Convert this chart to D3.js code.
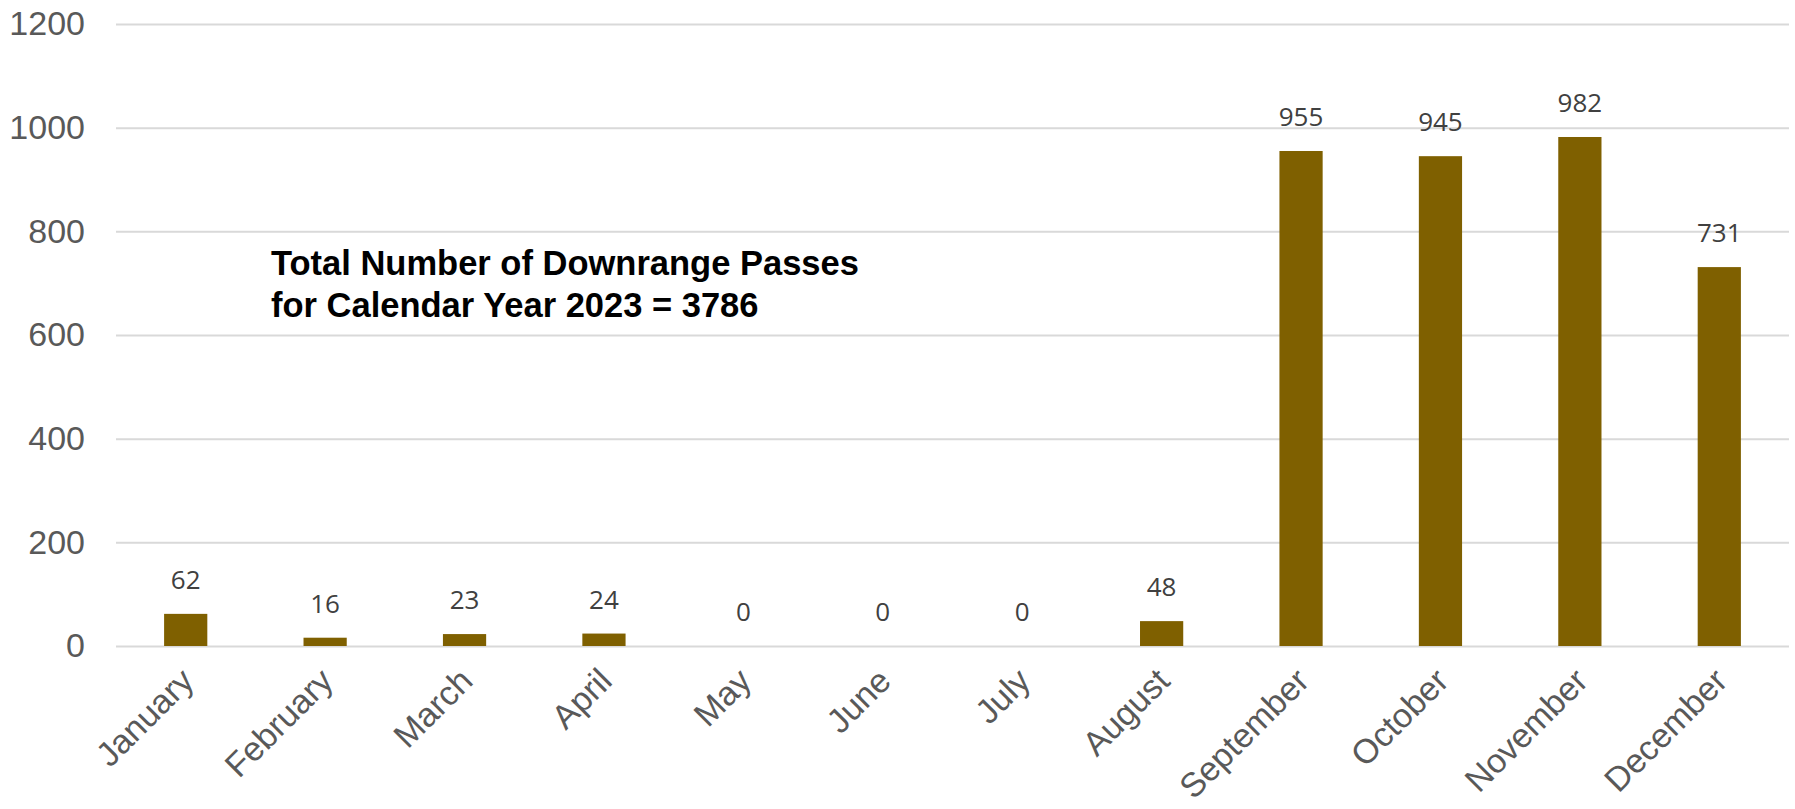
<!DOCTYPE html>
<html><head><meta charset="utf-8">
<script src="https://cdn.jsdelivr.net/npm/d3@7"></script>
<style>body{margin:0;background:#fff}svg{display:block}</style>
</head><body>
<svg id="c" width="1795" height="809"></svg>
<script>
const months = ["January","February","March","April","May","June","July","August","September","October","November","December"];
const passes = [62,16,23,24,0,0,0,48,955,945,982,731];
const yTicks = [0,200,400,600,800,1000,1200];
const noteLines = ["Total Number of Downrange Passes","for Calendar Year 2023 = 3786"];

(function(){
const svg = d3.select("#c");
const mL = 116, mR = 1789, mT = 24, mB = 646;
const x = d3.scaleBand().domain(months).range([mL, mR]).paddingInner(0.69).paddingOuter(0.345);
const y = d3.scaleLinear().domain([0,1200]).range([mB, mT]);

// gridlines
const yAxis = d3.axisLeft(y).tickValues(yTicks).tickSize(-(mR-mL)).tickPadding(31).tickFormat(d3.format("d"));
const gy = svg.append("g").attr("transform",`translate(${mL},0)`).call(yAxis);
gy.select(".domain").remove();
gy.selectAll(".tick line").attr("stroke","#d9d9d9").attr("stroke-width",2);
gy.selectAll(".tick text").attr("fill","#595959").style("font-family","'Liberation Sans', Arial, sans-serif").style("font-size","34px");

// bars
svg.append("g").selectAll("rect").data(passes).join("rect")
  .attr("x",(d,i)=>x(months[i]))
  .attr("y",d=>y(d))
  .attr("width",x.bandwidth())
  .attr("height",d=>mB-y(d))
  .attr("fill","#7f6000");

// value labels
svg.append("g").selectAll("text").data(passes).join("text")
  .attr("x",(d,i)=>x(months[i])+x.bandwidth()/2)
  .attr("y",d=>y(d)-25)
  .attr("text-anchor","middle")
  .attr("fill","#404040")
  .style("font-family","'Open Sans', sans-serif")
  .style("font-size","26px")
  .text(d=>d);

// x axis labels
const xAxis = d3.axisBottom(x).tickSize(0).tickPadding(0);
const gx = svg.append("g").attr("transform",`translate(0,${mB})`).call(xAxis);
gx.select(".domain").remove();
gx.selectAll(".tick text")
  .attr("text-anchor","end")
  .attr("fill","#595959")
  .style("font-family","'Liberation Sans', Arial, sans-serif")
  .style("font-size","34px")
  .attr("dy",0)
  .attr("transform","translate(10,37) rotate(-45)");

// annotation
svg.append("g").selectAll("text").data(noteLines).join("text")
  .attr("x",271)
  .attr("y",(d,i)=>275+i*42)
  .attr("fill","#000")
  .style("font-family","'Liberation Sans', Arial, sans-serif")
  .style("font-weight","bold")
  .style("font-size","34.5px")
  .text(d=>d);
})();
</script>
</body></html>
